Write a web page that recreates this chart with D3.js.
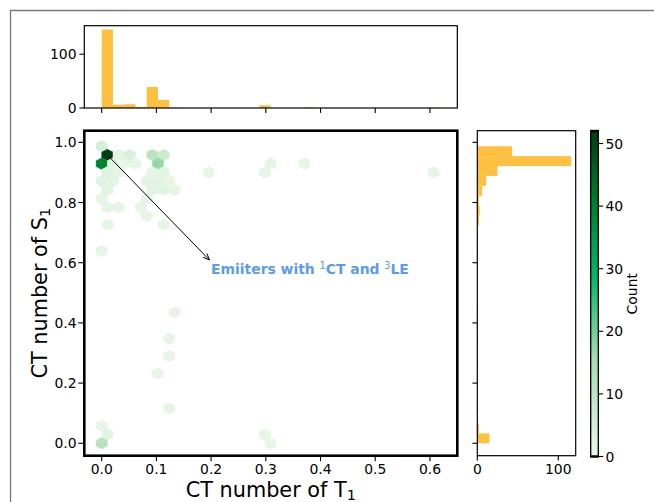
<!DOCTYPE html>
<html>
<head>
<meta charset="utf-8">
<script src="https://cdn.jsdelivr.net/npm/d3@7"></script>
<style>
  html, body { margin: 0; padding: 0; background: #fff; }
  svg { display: block; font-family: "DejaVu Sans", sans-serif; }
</style>
</head>
<body>
<svg id="chart" width="654" height="502"></svg>
<script>
// ---------------- DATA ----------------
// hexbin cells (centres in data units) and counts
const hexX = [0.0000, 0.0103, 0.0309, 0.0514, 0.0926, 0.1131,
  0.0000, 0.0206, 0.0411, 0.0617, 0.1029, 0.3086, 0.3703,
  0.0103, 0.0309, 0.0926, 0.1131, 0.1954, 0.2983, 0.6068,
  0.0000, 0.0206, 0.0823, 0.1029, 0.1234,
  0.0103, 0.0926, 0.1131, 0.1337,
  0.0000, 0.0823,
  0.0103, 0.0309, 0.0720,
  0.0823,
  0.0103, 0.1131,
  0.0000,
  0.1337, 0.1234, 0.1234, 0.1029, 0.1234,
  0.0000, 0.0103, 0.2983, 0.0000, 0.3086];
const hexY = [0.987, 0.958, 0.958, 0.958, 0.958, 0.958,
  0.929, 0.929, 0.929, 0.929, 0.929, 0.929, 0.929,
  0.900, 0.900, 0.900, 0.900, 0.900, 0.900, 0.900,
  0.871, 0.871, 0.871, 0.871, 0.871,
  0.842, 0.842, 0.842, 0.842,
  0.813, 0.813,
  0.784, 0.784, 0.784,
  0.755,
  0.726, 0.726,
  0.639,
  0.435, 0.348, 0.290, 0.232, 0.116,
  0.058, 0.029, 0.029, 0.000, 0.000];
const hexCount = [5, 52, 2, 4, 11, 7,
  40, 2, 1, 1, 17, 1, 1,
  3, 1, 1, 2, 1, 1, 1,
  2, 2, 2, 2, 1,
  2, 2, 2, 1,
  1, 1,
  1, 1, 1,
  1,
  1, 1,
  1,
  1, 1, 1, 1, 1,
  1, 2, 1, 12, 1];

// marginal histogram of T1 CT number (30 bins from 0 to 0.617)
const topBinRange = [0, 0.617];
const topCounts = [146, 6, 7, 2, 39, 15, 1, 0, 0, 0, 0, 0, 0, 0, 5,
  0, 0, 0, 1, 0, 0, 0, 0, 0, 0, 0, 0, 0, 0, 1];
// marginal histogram of S1 CT number (30 bins from 0 to 0.987)
const rightBinRange = [0, 0.987];
const rightCounts = [15, 2, 0, 1, 0, 0, 0, 1, 1, 0, 1, 0, 0, 1, 0,
  0, 0, 0, 0, 1, 0, 0, 2, 3, 2, 6, 11, 25, 116, 43];

const xTicks = [0.0, 0.1, 0.2, 0.3, 0.4, 0.5, 0.6];
const yTicks = [0.0, 0.2, 0.4, 0.6, 0.8, 1.0];
const topTicks = [0, 100];
const rightTicks = [0, 100];
const cbarTicks = [0, 10, 20, 30, 40, 50];
const countMax = 52;
const hexSize = [0.02057, 0.05806]; // sx, sy of hex lattice
const arrowFrom = [0.012, 0.955];
const arrowTo = [0.197, 0.609];
const annotPos = [0.2, 0.562];

// ---------------- LAYOUT ----------------
const svg = d3.select("#chart");
const mainL = 84.3, mainR = 457.3, mainT = 130.7, mainB = 455.7;
const topT = 25.7, topB = 108;
const rL = 477.3, rR = 575.7;
const cbL = 590.7, cbR = 598.3, cbT = 131, cbB = 456.5;
const FS = 13.9;
const orange = "#ffbf40";

const x = d3.scaleLinear().domain([-0.0318, 0.650]).range([mainL, mainR]);
const y = d3.scaleLinear().domain([-0.0412, 1.0386]).range([mainB, mainT]);
const topY = d3.scaleLinear().domain([0, 153]).range([topB, topT]);
const rightX = d3.scaleLinear().domain([0, 121.5]).range([rL, rR]);
const cY = d3.scaleLinear().domain([0, countMax]).range([cbB, cbT]);
const color = d3.scaleLinear()
  .domain([0, 0.3 * countMax, 0.55 * countMax, 0.78 * countMax, countMax])
  .range(["#eaf7ea", "#a6dcb0", "#00b86b", "#00802e", "#003d14"])
  .interpolate(d3.interpolateRgb);

// outer frame
svg.append("path").attr("d", "M10.5,502 V10.5 H654")
  .attr("fill", "none").attr("stroke", "#777").attr("stroke-width", 1.3);

// clip for main
svg.append("clipPath").attr("id", "mclip").append("rect")
  .attr("x", mainL).attr("y", mainT).attr("width", mainR - mainL).attr("height", mainB - mainT);

// ---- hexbin ----
const [sx, sy] = hexSize;
const hexVerts = [[.5, -1 / 6], [.5, 1 / 6], [0, 1 / 3], [-.5, 1 / 6], [-.5, -1 / 6], [0, -1 / 3]];
const hexes = hexX.map((hx, i) => ({ hx, hy: hexY[i], c: hexCount[i] }));
svg.append("g").attr("clip-path", "url(#mclip)")
  .selectAll("path").data(hexes).join("path")
  .attr("d", d => "M" + hexVerts.map(v => [x(d.hx + v[0] * sx), y(d.hy + v[1] * sy)].join(",")).join("L") + "Z")
  .attr("fill", d => color(d.c))
  .attr("stroke", d => color(d.c)).attr("stroke-width", 0.4);

// ---- annotation ----
const ax1 = x(arrowFrom[0]), ay1 = y(arrowFrom[1]), ax2 = x(arrowTo[0]), ay2 = y(arrowTo[1]);
svg.append("line").attr("x1", ax1).attr("y1", ay1).attr("x2", ax2).attr("y2", ay2)
  .attr("stroke", "#000").attr("stroke-width", 1);
{
  const ang = Math.atan2(ay2 - ay1, ax2 - ax1), L = 7, a = 0.4;
  const p1 = [ax2 - L * Math.cos(ang - a), ay2 - L * Math.sin(ang - a)];
  const p2 = [ax2 - L * Math.cos(ang + a), ay2 - L * Math.sin(ang + a)];
  svg.append("path").attr("d", `M${p1}L${ax2},${ay2}L${p2}`)
    .attr("fill", "none").attr("stroke", "#000").attr("stroke-width", 1);
}
const at = svg.append("text").attr("x", x(annotPos[0])).attr("y", y(annotPos[1]))
  .attr("fill", "#5b9bec").attr("font-weight", "bold").attr("font-size", FS);
at.append("tspan").text("Emiiters with ");
at.append("tspan").attr("font-size", FS * 0.7).attr("font-weight", "normal").attr("dy", -5).text("1");
at.append("tspan").attr("dy", 5).text("CT and ");
at.append("tspan").attr("font-size", FS * 0.7).attr("font-weight", "normal").attr("dy", -5).text("3");
at.append("tspan").attr("dy", 5).text("LE");

// ---- main axes ----
const tickCol = "#000";
const gx = svg.append("g");
xTicks.forEach(t => {
  gx.append("line").attr("x1", x(t)).attr("x2", x(t)).attr("y1", mainB).attr("y2", mainB + 5.5)
    .attr("stroke", tickCol).attr("stroke-width", 1.1);
  gx.append("text").attr("x", x(t)).attr("y", 474.3).attr("text-anchor", "middle")
    .attr("font-size", FS).text(d3.format(".1f")(t));
  // ticks of top histogram (no labels)
  gx.append("line").attr("x1", x(t)).attr("x2", x(t)).attr("y1", topB).attr("y2", topB + 4.9)
    .attr("stroke", tickCol).attr("stroke-width", 1.1);
});
yTicks.forEach(t => {
  gx.append("line").attr("x1", mainL).attr("x2", mainL - 6).attr("y1", y(t)).attr("y2", y(t))
    .attr("stroke", tickCol).attr("stroke-width", 1.1);
  gx.append("text").attr("x", 76.5).attr("y", y(t)).attr("dy", "0.36em").attr("text-anchor", "end")
    .attr("font-size", FS).text(d3.format(".1f")(t));
  // right histogram ticks (no labels)
  gx.append("line").attr("x1", rL).attr("x2", rL - 4.9).attr("y1", y(t)).attr("y2", y(t))
    .attr("stroke", tickCol).attr("stroke-width", 1.1);
});
svg.append("rect").attr("x", mainL).attr("y", mainT).attr("width", mainR - mainL).attr("height", mainB - mainT)
  .attr("fill", "none").attr("stroke", "#000").attr("stroke-width", 2.6);

// axis labels
const xl = svg.append("text").attr("x", (mainL + mainR) / 2).attr("y", 497.3).attr("text-anchor", "middle")
  .attr("font-size", 20.8);
xl.append("tspan").text("CT number of T");
xl.append("tspan").attr("font-size", 14.5).attr("dy", 3).text("1");
const yl = svg.append("text").attr("transform", `translate(47,${(mainT + mainB) / 2}) rotate(-90)`)
  .attr("text-anchor", "middle").attr("font-size", 20.8);
yl.append("tspan").text("CT number of S");
yl.append("tspan").attr("font-size", 14.5).attr("dy", 3).text("1");

// ---- top histogram ----
const tw = (topBinRange[1] - topBinRange[0]) / topCounts.length;
svg.append("g").selectAll("rect").data(topCounts).join("rect")
  .attr("x", (d, i) => x(topBinRange[0] + i * tw))
  .attr("width", (d, i) => x(topBinRange[0] + (i + 1) * tw) - x(topBinRange[0] + i * tw))
  .attr("y", d => topY(d)).attr("height", d => topY(0) - topY(d))
  .attr("fill", orange);
topTicks.forEach(t => {
  svg.append("line").attr("x1", mainL).attr("x2", mainL - 4.9).attr("y1", topY(t)).attr("y2", topY(t))
    .attr("stroke", tickCol).attr("stroke-width", 1.1);
  svg.append("text").attr("x", 76.5).attr("y", topY(t)).attr("dy", "0.36em").attr("text-anchor", "end")
    .attr("font-size", FS).text(t);
});
svg.append("rect").attr("x", mainL).attr("y", topT).attr("width", mainR - mainL).attr("height", topB - topT)
  .attr("fill", "none").attr("stroke", "#000").attr("stroke-width", 1.2);

// ---- right histogram ----
const rw = (rightBinRange[1] - rightBinRange[0]) / rightCounts.length;
svg.append("g").selectAll("rect").data(rightCounts).join("rect")
  .attr("x", rightX(0))
  .attr("width", d => rightX(d) - rightX(0))
  .attr("y", (d, i) => y(rightBinRange[0] + (i + 1) * rw))
  .attr("height", (d, i) => y(rightBinRange[0] + i * rw) - y(rightBinRange[0] + (i + 1) * rw))
  .attr("fill", orange);
rightTicks.forEach(t => {
  svg.append("line").attr("x1", rightX(t)).attr("x2", rightX(t)).attr("y1", mainB).attr("y2", mainB + 4.9)
    .attr("stroke", tickCol).attr("stroke-width", 1.1);
  svg.append("text").attr("x", rightX(t)).attr("y", 474.3).attr("text-anchor", "middle")
    .attr("font-size", FS).text(t);
});
svg.append("rect").attr("x", rL).attr("y", mainT).attr("width", rR - rL).attr("height", mainB - mainT)
  .attr("fill", "none").attr("stroke", "#000").attr("stroke-width", 1.2);

// ---- colorbar ----
const grad = svg.append("defs").append("linearGradient").attr("id", "cbg")
  .attr("x1", 0).attr("y1", 1).attr("x2", 0).attr("y2", 0);
d3.range(0, 1.0001, 0.05).forEach(f => {
  grad.append("stop").attr("offset", f).attr("stop-color", color(f * countMax));
});
svg.append("rect").attr("x", cbL).attr("y", cbT).attr("width", cbR - cbL).attr("height", cbB - cbT)
  .attr("fill", "url(#cbg)").attr("stroke", "#000").attr("stroke-width", 1.3);
svg.append("line").attr("x1", cbL - 0.6).attr("x2", cbR + 0.6).attr("y1", cbT).attr("y2", cbT)
  .attr("stroke", "#000").attr("stroke-width", 2.4);
svg.append("line").attr("x1", cbL - 0.6).attr("x2", cbR + 0.6).attr("y1", cbB).attr("y2", cbB)
  .attr("stroke", "#000").attr("stroke-width", 2.4);
cbarTicks.forEach(t => {
  svg.append("line").attr("x1", cbR).attr("x2", cbR + 4.9).attr("y1", cY(t)).attr("y2", cY(t))
    .attr("stroke", tickCol).attr("stroke-width", 1.1);
  svg.append("text").attr("x", 605.5).attr("y", cY(t)).attr("dy", "0.36em")
    .attr("font-size", FS).text(t);
});
svg.append("text").attr("transform", `translate(637,${(cbT + cbB) / 2}) rotate(-90)`)
  .attr("text-anchor", "middle").attr("font-size", FS).text("Count");
</script>
</body>
</html>
